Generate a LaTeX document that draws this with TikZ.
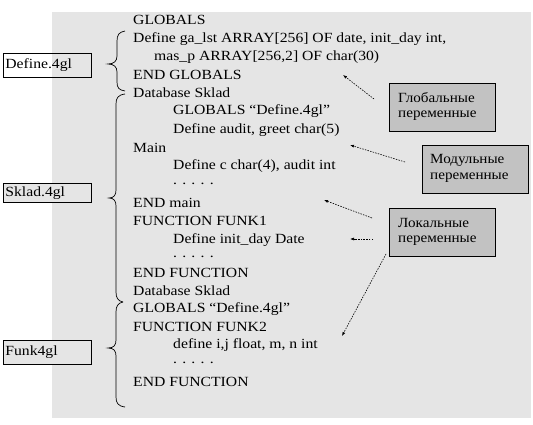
\documentclass[tikz,border=0pt]{standalone}
\usepackage{fontspec}
\setmainfont{Liberation Serif}
\newfontfamily\codefont{Liberation Serif}[FakeStretch=1.12]
\newfontfamily\notefont{Liberation Serif}[FakeStretch=1.08]
\usetikzlibrary{arrows.meta}
\begin{document}
\begin{tikzpicture}[x=1pt,y=-1pt,
  code/.style={anchor=west,inner sep=0pt,font=\codefont\fontsize{14}{16}\selectfont},
  filebox/.style={draw,line width=0.8pt,anchor=north west,minimum width=88pt,inner sep=2pt,font=\codefont\fontsize{14}{16}\selectfont,text width=84pt,align=left},
  notebox/.style={draw,line width=0.8pt,fill=black!24,anchor=north west,minimum width=106pt,minimum height=48pt,inner sep=0pt},
  note/.style={dashed,dash pattern=on 1.5pt off 1.2pt,line width=0.6pt,-{Latex[length=4pt,width=3pt]}},
  brace/.style={line width=0.7pt}]
\useasboundingbox (0,0) rectangle (533,425);
\fill[black!10] (52,12) rectangle (531,418);
% file boxes
\node[filebox,minimum height=24pt] (def) at (3,53) {Define.4gl};
\node[filebox,fill=black!10,minimum height=19pt] (sklad) at (3,183) {Sklad.4gl};
\node[filebox,fill=black!10,minimum height=24pt] (funk) at (3,340) {Funk4gl};
% braces
\draw[brace] (125,31) .. controls (119,32) and (117,35) .. (117,41) -- (117,56) .. controls (117,61) and (114,64) .. (108,64) .. controls (114,64) and (117,67) .. (117,72) -- (117,82) .. controls (117,88) and (119,90) .. (125,91);
\draw[brace] (125,94) .. controls (118,95) and (116,98) .. (116,104) -- (116,190) .. controls (116,195) and (114,198) .. (109,198) .. controls (114,198) and (116,201) .. (116,206) -- (116,292) .. controls (116,298) and (118,301) .. (123,302);
\draw[brace] (123,302) .. controls (118,303) and (116,306) .. (116,312) -- (116,340) .. controls (116,345) and (114,348) .. (108,348) .. controls (114,348) and (116,351) .. (116,356) -- (116,397) .. controls (116,403) and (118,406) .. (125,407);
% code lines
\node[code] (l1) at (133,20) {GLOBALS};
\node[code] (l2) at (133,39) {Define ga\_lst ARRAY[256] OF date, init\_day int,};
\node[code] (l3) at (154,57) {mas\_p ARRAY[256,2] OF char(30)};
\node[code] (l4) at (133,75) {END GLOBALS};
\node[code] (l5) at (133,93) {Database Sklad};
\node[code] (l6) at (173,111) {GLOBALS “Define.4gl”};
\node[code] (l7) at (173,130) {Define audit, greet char(5)};
\node[code] (l8) at (133,148) {Main};
\node[code] (l9) at (173,166) {Define c char(4), audit int};
\node[code] (l10) at (173,184) {. . . . .};
\node[code] (l11) at (133,203) {END main};
\node[code] (l12) at (133,221) {FUNCTION FUNK1};
\node[code] (l13) at (173,240) {Define init\_day Date};
\node[code] (l14) at (173,257) {. . . . .};
\node[code] (l15) at (133,273) {END FUNCTION};
\node[code] (l16) at (133,291) {Database Sklad};
\node[code] (l17) at (133,309) {GLOBALS “Define.4gl”};
\node[code] (l18) at (133,327) {FUNCTION FUNK2};
\node[code] (l19) at (173,345) {define i,j float, m, n int};
\node[code] (l20) at (173,363) {. . . . .};
\node[code] (l21) at (133,382) {END FUNCTION};
% note boxes
\node[notebox] (glob) at (389,83) {};
\node[notebox] (mod) at (422,145) {};
\node[notebox] (loc) at (389,208) {};
\node[code,font=\notefont\fontsize{14}{16}\selectfont] (glob1) at (398,98) {Глобальные};
\node[code,font=\notefont\fontsize{14}{16}\selectfont] (glob2) at (398,116) {переменные};
\node[code,font=\notefont\fontsize{14}{16}\selectfont] (mod1) at (430,160) {Модульные};
\node[code,font=\notefont\fontsize{14}{16}\selectfont] (mod2) at (430,178) {переменные};
\node[code,font=\notefont\fontsize{14}{16}\selectfont] (loc1) at (398,223) {Локальные};
\node[code,font=\notefont\fontsize{14}{16}\selectfont] (loc2) at (398,241) {переменные};
% arrow ends
\coordinate (g1) at (374,99);
\coordinate (g2) at (343,75);
\coordinate (m1) at (405,162);
\coordinate (m2) at (350,145);
\coordinate (k1) at (372,218);
\coordinate (k2) at (324,200);
\coordinate (n1) at (373,239);
\coordinate (n2) at (350,239);
\coordinate (p1) at (386,254);
\coordinate (p2) at (342,336);
\draw[note] (g1) -- (g2);
\draw[note] (m1) -- (m2);
\draw[note] (k1) -- (k2);
\draw[note] (n1) -- (n2);
\draw[note] (p1) -- (p2);
\end{tikzpicture}
\end{document}
